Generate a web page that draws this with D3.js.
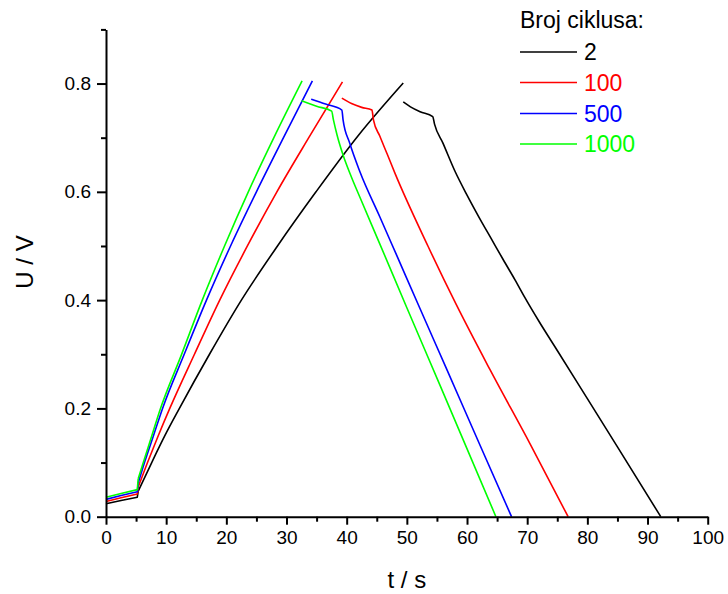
<!DOCTYPE html>
<html>
<head>
<meta charset="utf-8">
<script src="https://cdn.jsdelivr.net/npm/d3@7"></script>
<style>
  html, body { margin: 0; padding: 0; background: #fff; }
  svg { display: block; font-family: "Liberation Sans", Arial, sans-serif; }
</style>
</head>
<body>
<svg id="chart" width="728" height="594"></svg>
<script>
// ---- data ----
const seriesNames = ["2", "100", "500", "1000"];
const seriesColors = ["#000000", "#ff0000", "#0000ff", "#00ff00"];
const legendTitle = "Broj ciklusa:";
const xLabel = "t / s";
const yLabel = "U / V";
const xTicks = [0, 10, 20, 30, 40, 50, 60, 70, 80, 90, 100];
const yTicks = [0.0, 0.2, 0.4, 0.6, 0.8];

// charge branches [t, U]  (first 4 points: rest period + IR step at ~5.3 s)
const charge2 = [[0,0.024],[2.5,0.030],[5.2,0.036],[5.35,0.047],[7.6,0.1],[9.8,0.15],[12.2,0.2],[17.2,0.3],[22.5,0.4],[28.5,0.5],[34.9,0.6],[42,0.705],[49.4,0.801]];
const charge100 = [[0,0.028],[2.5,0.035],[5.2,0.042],[5.35,0.055],[6.9,0.1],[8.7,0.15],[10.6,0.2],[14.7,0.3],[18.9,0.4],[23.5,0.5],[28.4,0.6],[33.7,0.7],[39.3,0.803]];
const charge500 = [[0,0.032],[2.5,0.039],[5.2,0.046],[5.35,0.062],[6.4,0.1],[7.9,0.15],[9.4,0.2],[13.0,0.3],[16.7,0.4],[20.7,0.5],[25.0,0.6],[29.5,0.7],[34.3,0.805]];
const charge1000 = [[0,0.036],[2.5,0.043],[5.2,0.050],[5.35,0.070],[6.2,0.1],[7.6,0.149],[9.0,0.198],[12.5,0.298],[16.0,0.4],[19.7,0.5],[23.65,0.6],[27.9,0.7],[32.6,0.805]];

// discharge branches [t, U]
const discharge2 = [[49.4,0.766],[50.6,0.757],[52.2,0.748],[54.3,0.739],[54.6,0.725],[56,0.690],[58,0.638],[60,0.594],[62,0.553],[64,0.514],[66,0.475],[68,0.437],[69.6,0.405],[72,0.360],[75,0.307],[80,0.218],[85,0.129],[92.2,0]];
const discharge100 = [[39.2,0.773],[40.8,0.763],[42.5,0.756],[44.2,0.751],[44.45,0.733],[45.5,0.703],[46.8,0.668],[48,0.635],[53.5,0.50],[58.2,0.392],[63.8,0.272],[70.5,0.134],[76.8,0]];
const discharge500 = [[34.1,0.771],[36.5,0.762],[39.2,0.751],[39.4,0.733],[40.5,0.690],[42.2,0.637],[45.5,0.554],[48.3,0.483],[52.2,0.384],[56.6,0.273],[62.2,0.131],[67.4,0]];
const discharge1000 = [[32.5,0.768],[35,0.758],[37.5,0.749],[37.8,0.733],[38.4,0.705],[39.4,0.668],[40.8,0.627],[42.2,0.590],[45.5,0.504],[50,0.386],[55.5,0.243],[59.9,0.128],[64.8,0]];

const chargeData = [charge2, charge100, charge500, charge1000];
const dischargeData = [discharge2, discharge100, discharge500, discharge1000];

// ---- layout ----
const svg = d3.select("#chart");
const x = d3.scaleLinear().domain([0, 100]).range([106, 707.7]);
const y = d3.scaleLinear().domain([0, 0.9]).range([516.7, 29.4]);

const lineLin = d3.line().x(d => x(d[0])).y(d => y(d[1])).curve(d3.curveLinear);
const lineSmooth = d3.line().x(d => x(d[0])).y(d => y(d[1])).curve(d3.curveMonotoneX);

const plot = svg.append("g");
function drawPath(data, gen, color) {
  plot.append("path")
    .datum(data)
    .attr("d", gen)
    .attr("fill", "none")
    .attr("stroke", color)
    .attr("stroke-width", 1.6)
    .attr("stroke-linejoin", "round");
}
seriesNames.forEach((name, i) => {
  const c = chargeData[i];
  drawPath(c.slice(0, 4), lineLin, seriesColors[i]);      // rest + IR step
  drawPath(c.slice(3), lineSmooth, seriesColors[i]);      // galvanostatic charge
  drawPath(dischargeData[i], lineSmooth, seriesColors[i]); // discharge
});

// x axis
const xAxis = d3.axisBottom(x).tickValues(xTicks).tickFormat(d3.format("d")).tickSize(8).tickPadding(6).tickSizeOuter(0);
svg.append("g").attr("transform", `translate(0,${y(0)})`).call(xAxis);
const xMinor = d3.axisBottom(x).tickValues(d3.range(5, 100, 10)).tickFormat("").tickSize(5).tickSizeOuter(0);
svg.append("g").attr("transform", `translate(0,${y(0)})`).call(xMinor).select(".domain").remove();

// y axis
const yAxis = d3.axisLeft(y).tickValues(yTicks).tickFormat(d3.format(".1f")).tickSize(9).tickPadding(6).tickSizeOuter(0);
svg.append("g").attr("transform", `translate(${x(0)},0)`).call(yAxis);
const yMinor = d3.axisLeft(y).tickValues([0.1, 0.3, 0.5, 0.7, 0.9]).tickFormat("").tickSize(5).tickSizeOuter(0);
svg.append("g").attr("transform", `translate(${x(0)},0)`).call(yMinor).select(".domain").remove();

svg.selectAll(".domain, .tick line").attr("stroke", "#000").attr("stroke-width", 2);
svg.selectAll(".tick text").attr("font-size", 19).attr("fill", "#000")
  .attr("font-family", "Liberation Sans, Arial, sans-serif");

// axis titles
svg.append("text").attr("x", (x(0) + x(100)) / 2).attr("y", 588)
  .attr("text-anchor", "middle").attr("font-size", 24).attr("fill", "#000").text(xLabel);
svg.append("text").attr("transform", `translate(33,${262}) rotate(-90)`)
  .attr("text-anchor", "middle").attr("font-size", 24).attr("fill", "#000").text(yLabel);

// legend
const lg = svg.append("g");
lg.append("text").attr("x", 520).attr("y", 28).attr("font-size", 23).attr("fill", "#000").text(legendTitle);
const legendY = [52, 82.5, 113.5, 144];
seriesNames.forEach((name, i) => {
  lg.append("line").attr("x1", 520).attr("x2", 577).attr("y1", legendY[i]).attr("y2", legendY[i])
    .attr("stroke", seriesColors[i]).attr("stroke-width", 1.6);
  lg.append("text").attr("x", 584).attr("y", legendY[i] + 8.3).attr("font-size", 23)
    .attr("fill", seriesColors[i]).text(name);
});
</script>
</body>
</html>
